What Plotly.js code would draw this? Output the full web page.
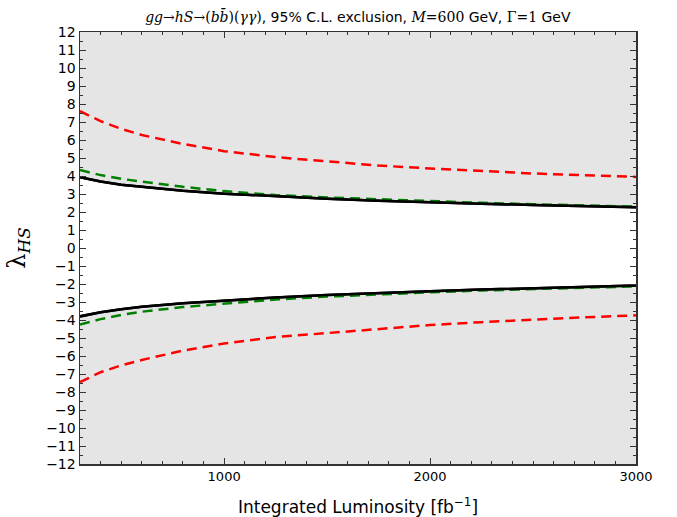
<!DOCTYPE html>
<html>
<head>
<meta charset="utf-8">
<script src="https://cdn.plot.ly/plotly-3.0.1.min.js"></script>
<style>html,body{margin:0;padding:0;background:#fff;}#chart{width:677px;height:517px;}</style>
</head>
<body>
<div id="chart"></div>
<script>
// Integrated luminosity [fb^-1]
const lumi = [300, 400, 500, 600, 800, 1000, 1250, 1500, 1750, 2000, 2250, 2500, 2750, 3000];
// Black solid curves (upper / lower)
const blackUpper = [3.93, 3.70, 3.52, 3.40, 3.18, 3.02, 2.86, 2.74, 2.63, 2.53, 2.46, 2.39, 2.33, 2.27];
const blackLower = [-3.80, -3.57, -3.40, -3.27, -3.07, -2.92, -2.75, -2.61, -2.49, -2.40, -2.31, -2.23, -2.16, -2.09];
// Green dashed curves
const greenUpper = [4.33, 4.05, 3.84, 3.68, 3.40, 3.16, 2.94, 2.81, 2.70, 2.60, 2.51, 2.43, 2.36, 2.30];
const greenLower = [-4.25, -3.95, -3.72, -3.54, -3.28, -3.08, -2.86, -2.70, -2.57, -2.46, -2.36, -2.27, -2.19, -2.13];
// Red dashed curves
const redUpper = [7.60, 7.05, 6.62, 6.28, 5.78, 5.38, 5.05, 4.80, 4.58, 4.42, 4.27, 4.14, 4.04, 3.95];
const redLower = [-7.45, -6.90, -6.52, -6.22, -5.70, -5.30, -4.95, -4.72, -4.49, -4.28, -4.12, -3.97, -3.85, -3.74];
// Tick values
const xTicks = [1000, 2000, 3000];
const yTicks = [-12,-11,-10,-9,-8,-7,-6,-5,-4,-3,-2,-1,0,1,2,3,4,5,6,7,8,9,10,11,12];

const dashPat = '10px,6px';
const traces = [
  {x: lumi, y: blackLower, mode: 'lines', line: {color: 'black', width: 2.5}, hoverinfo: 'skip'},
  {x: lumi, y: blackUpper, mode: 'lines', fill: 'tonexty', fillcolor: 'white', line: {color: 'black', width: 2.5}, hoverinfo: 'skip'},
  {x: lumi, y: greenUpper, mode: 'lines', line: {color: '#008000', width: 2.5, dash: dashPat}},
  {x: lumi, y: greenLower, mode: 'lines', line: {color: '#008000', width: 2.5, dash: dashPat}},
  {x: lumi, y: redUpper, mode: 'lines', line: {color: '#ff0000', width: 2.5, dash: dashPat}},
  {x: lumi, y: redLower, mode: 'lines', line: {color: '#ff0000', width: 2.5, dash: dashPat}},
  {x: lumi, y: blackUpper, mode: 'lines', line: {color: 'black', width: 2.5}, hoverinfo: 'skip'},
  {x: lumi, y: blackLower, mode: 'lines', line: {color: 'black', width: 2.5}, hoverinfo: 'skip'}
];

const serifCss = "DejaVu Serif, Liberation Serif, serif";
const layout = {
  width: 677, height: 517,
  margin: {l: 80, r: 41, t: 32, b: 53},
  paper_bgcolor: 'white',
  plot_bgcolor: '#e5e5e5',
  showlegend: false,
  font: {family: "'DejaVu Sans', sans-serif", color: 'black', size: 14},
  title: {
    text: "<span style=\"font-family:" + serifCss + "\"><i>gg</i>→<i>hS</i>→(<i>b</i><i>b̄</i>)(<i>γγ</i>)</span>, 95% C.L. exclusion, <span style=\"font-family:" + serifCss + "\"><i>M</i>=600</span> GeV, <span style=\"font-family:" + serifCss + "\">Γ=1</span> GeV",
    font: {size: 14, color: 'black'},
    x: 0.5286, xanchor: 'center', y: 0.967, yanchor: 'middle'
  },
  xaxis: {
    range: [300, 3000],
    tickvals: xTicks,
    ticktext: xTicks.map(String),
    ticks: 'inside', ticklen: 6, tickcolor: '#333', tickwidth: 1,
    minor: {dtick: 100, tick0: 0, ticks: 'inside', ticklen: 3, tickcolor: '#333'},
    showline: true, linecolor: '#333', linewidth: 1.5, mirror: 'allticks',
    showgrid: false, zeroline: false,
    tickfont: {size: 13},
    title: {text: 'Integrated Luminosity [fb<sup>−1</sup>]', font: {size: 17}, standoff: 18}
  },
  yaxis: {
    range: [-12, 12],
    tickvals: yTicks,
    ticktext: yTicks.map(v => v < 0 ? '−' + Math.abs(v) : String(v)),
    ticks: 'inside', ticklen: 6, tickcolor: '#333', tickwidth: 1,
    minor: {dtick: 0.5, tick0: 0, ticks: 'inside', ticklen: 3, tickcolor: '#333'},
    showline: true, linecolor: '#333', linewidth: 1.5, mirror: 'allticks',
    showgrid: false, zeroline: false,
    tickfont: {size: 14},
    title: {text: 'λ<sub><i>HS</i></sub>', font: {size: 24, family: serifCss}, standoff: 14}
  }
};
Plotly.newPlot('chart', traces, layout, {displayModeBar: false, staticPlot: true});
</script>
</body>
</html>
